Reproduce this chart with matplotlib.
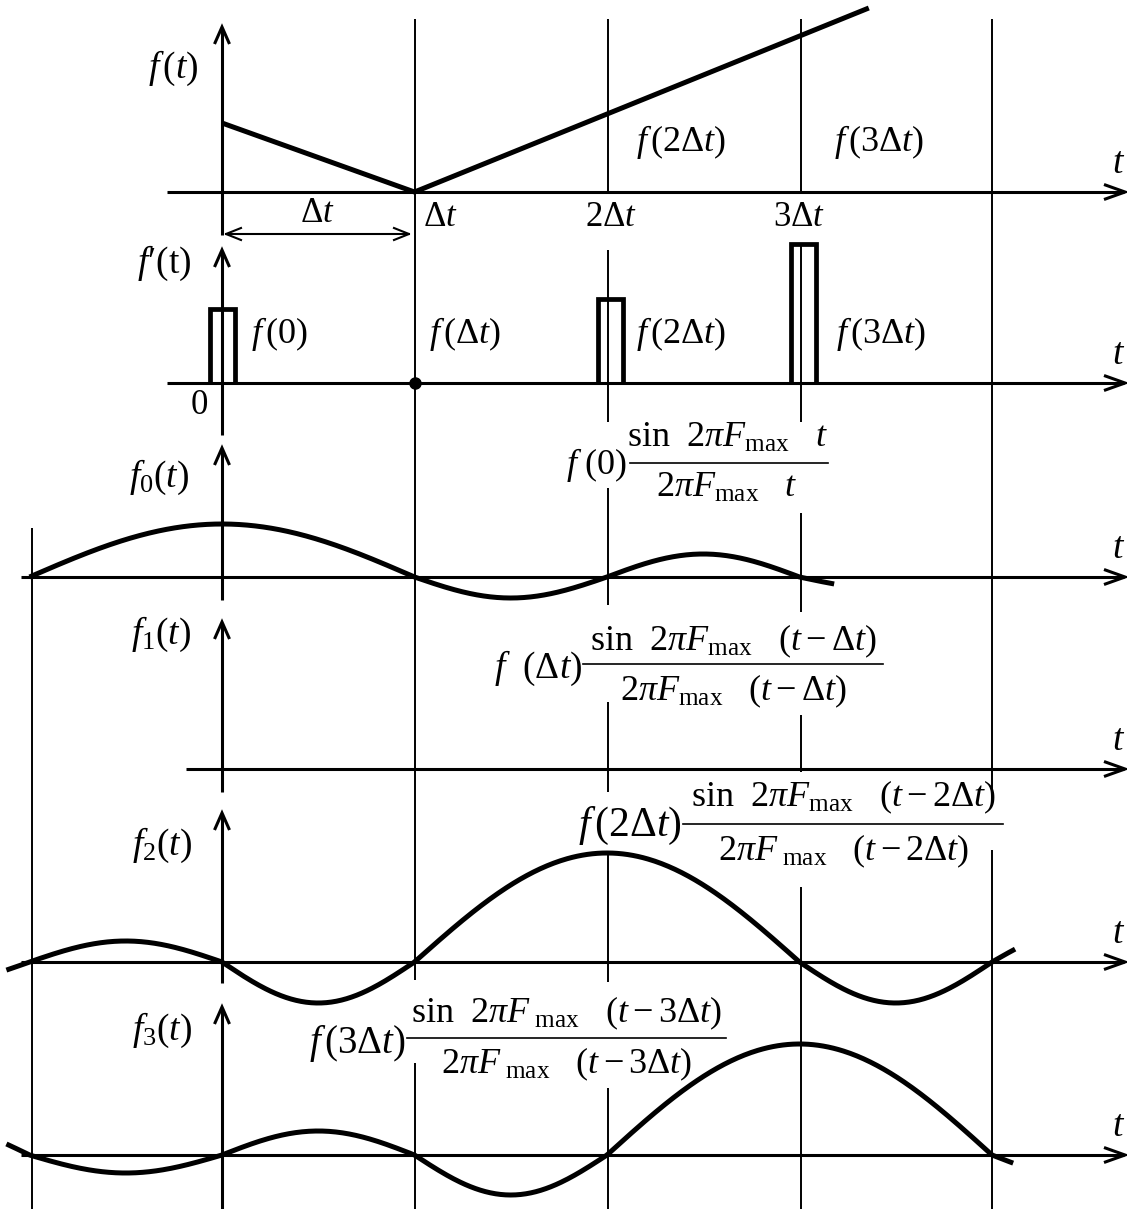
import numpy as np
import matplotlib
matplotlib.use('Agg')
import matplotlib.pyplot as plt

plt.rcParams['font.family'] = ['Liberation Serif', 'DejaVu Serif']
plt.rcParams['mathtext.fontset'] = 'custom'
plt.rcParams['mathtext.rm'] = 'Liberation Serif'
plt.rcParams['mathtext.it'] = 'Liberation Serif:italic'
plt.rcParams['mathtext.bf'] = 'Liberation Serif:bold'
plt.rcParams['mathtext.sf'] = 'Liberation Serif'

# ---------------- data ----------------
sample_t = [0, 1, 2, 3]                 # sample instants, in units of Δt
f_line_t = [0.0, 1.0, 3.36]             # break points of f(t)
f_line_v = [69, 0, 184]                 # f(t) at those points
pulse_v = [74, 0, 84, 139]              # heights of sampling pulses f'(t)
comp_k = [0, 1, 2, 3]                   # centre of each sinc component
comp_main = [53, 0, 109, 111]           # main-lobe amplitude of f0..f3
comp_right = [[-21, 23, -13], [], [-41, 35], [-24]]          # side lobes to the right
comp_left = [[], [], [-41, 21, -22], [-40, 24, -18, 30]]     # side lobes to the left
comp_span = [(-1.0, 3.18), (0.0, 0.0), (-1.12, 4.12), (-1.12, 4.11)]
tick_labels = [r'$\Delta t$', r'$2\Delta t$', r'$3\Delta t$']
panel_labels = [r'$f\,(t)$', r'$f$' + '\u2032(t)', r'$f_0(t)$', r'$f_1(t)$',
                r'$f_2(t)$', r'$f_3(t)$']
sample_labels = [r'$f\,(0)$', r'$f\,(\Delta t)$', r'$f\,(2\Delta t)$', r'$f\,(3\Delta t)$']

# ---------------- layout ----------------
W, H = 1127, 1209
T0, DT = 222.0, 192.5


def X(px):
    return (px - T0) / DT


base = [192, 383, 577, 769, 962, 1155]
axis_left = [167, 167, 21, 186, 21, 21]
yaxis_top = [27, 250, 448, 622, 813, 1007]
yaxis_bot = [235, 435, 600, 792, 983, 1209]
vsegs = {
    -1: [(528, 1209)],
    1: [(19, 980), (1063, 1209)],
    2: [(19, 192), (250, 422), (488, 605), (702, 792), (852, 982), (1088, 1209)],
    3: [(19, 192), (243, 422), (513, 612), (715, 772), (887, 1209)],
    4: [(19, 800), (850, 1209)],
}
vline_shift = {-1: 3, 1: 0, 2: 1, 3: 1, 4: 0}   # small hand-drawing offsets (px)

LW_AX = 2.2
LW_CURVE = 3.6
LW_GRID = 1.4
FS = 25
K = 'black'

fig = plt.figure(figsize=(W / 100, H / 100), dpi=100)
ax = fig.add_axes([0, 0, 1, 1])
ax.set_xlim(X(0), X(W))
ax.set_ylim(H, 0)
ax.axis('off')


def head_right(xtip_px, y, L=21, w=7.5, lw=LW_AX):
    xs = [X(xtip_px - L), X(xtip_px), X(xtip_px - L)]
    ys = [y - w, y, y + w]
    ax.plot(xs, ys, color=K, lw=lw, solid_joinstyle='miter', solid_capstyle='butt', zorder=4)


def head_left(xtip_px, y, L=15, w=6, lw=1.5):
    xs = [X(xtip_px + L), X(xtip_px), X(xtip_px + L)]
    ys = [y - w, y, y + w]
    ax.plot(xs, ys, color=K, lw=lw, solid_joinstyle='miter', zorder=4)


def head_up(t, ytip, L=17, w=7.5, lw=LW_AX):
    xs = [t - w / DT, t, t + w / DT]
    ys = [ytip + L, ytip, ytip + L]
    ax.plot(xs, ys, color=K, lw=lw, solid_joinstyle='miter', solid_capstyle='butt', zorder=4)


# vertical guide lines
for t, segs in vsegs.items():
    tx = t + vline_shift[t] / DT
    for y0, y1 in segs:
        ax.plot([tx, tx], [y0, y1], color=K, lw=LW_GRID, solid_capstyle='butt', zorder=2)

# axes of the six panels
for i, b in enumerate(base):
    ax.plot([X(axis_left[i]), X(1124)], [b, b], color=K, lw=LW_AX, solid_capstyle='butt', zorder=3)
    head_right(1125, b)
    ax.plot([0, 0], [yaxis_bot[i], yaxis_top[i] + 1], color=K, lw=LW_AX, solid_capstyle='butt', zorder=3)
    head_up(0, yaxis_top[i])
    ax.text(X(1119), b - 28, r'$t$', fontsize=27, ha='center', va='center', zorder=6)

# panel labels
label_pos = [(173, 68), (164, 263), (159, 477), (161, 634), (162, 845), (162, 1030)]
for lab, (px, py) in zip(panel_labels, label_pos):
    ax.text(X(px), py, lab, fontsize=27, ha='center', va='center', zorder=6)

# ---- panel 1: f(t) ----
ax.plot(f_line_t, [base[0] - v for v in f_line_v], color=K, lw=LW_CURVE,
        solid_capstyle='butt', solid_joinstyle='miter', zorder=5)
tick_x = [X(440), 2 + 4 / DT, 3]
for lab, tx in zip(tick_labels, tick_x):
    ax.text(tx, 218, lab, fontsize=FS, ha='center', va='center', zorder=6)
for lab, px in zip(sample_labels[2:], [681, 879]):
    ax.text(X(px), 142, lab, fontsize=26, ha='center', va='center', zorder=6)
# Δt dimension arrow
ax.plot([X(226), X(409)], [234, 234], color=K, lw=1.5, zorder=4)
head_left(226, 234)
xs = [X(409 - 15), X(409), X(409 - 15)]
ax.plot(xs, [228, 234, 240], color=K, lw=1.5, solid_joinstyle='miter', zorder=4)
ax.text(X(317), 214, r'$\Delta t$', fontsize=FS, ha='center', va='center', zorder=6)

# ---- panel 2: sampling pulses ----
pw = 25 / DT
pulse_shift = [1, 0, 3, 4]   # px
for k, h, s in zip(sample_t, pulse_v, pulse_shift):
    b = base[1]
    kc = k + s / DT
    if h > 0:
        ax.plot([kc - pw / 2, kc - pw / 2, kc + pw / 2, kc + pw / 2], [b, b - h, b - h, b],
                color=K, lw=LW_CURVE * 0.95, solid_joinstyle='miter', solid_capstyle='butt', zorder=5)
    else:
        ax.plot([k], [b], 'o', color=K, ms=8, zorder=6)
ax.text(X(199), 405, '0', fontsize=FS, ha='center', va='center', zorder=6)
for lab, px in zip(sample_labels, [279, 465, 681, 881]):
    ax.text(X(px), 334, lab, fontsize=26, ha='center', va='center', zorder=6)


# ---- panels 3-6: sinc components ----
def component(t, k, A, right, left):
    u = t - k
    y = np.zeros_like(u)
    m = np.abs(u) <= 1
    y[m] = A * np.cos(np.pi * u[m] / 2)
    for i, a in enumerate(right):
        n = i + 1
        m = (u > n) & (u <= n + 1)
        y[m] = a * np.sin(np.pi * (u[m] - n))
    for i, a in enumerate(left):
        n = i + 1
        m = (u < -n) & (u >= -n - 1)
        y[m] = a * np.sin(np.pi * (-u[m] - n))
    return y


for j in range(4):
    b = base[2 + j]
    t0, t1 = comp_span[j]
    if comp_main[j] == 0 or t1 <= t0:
        continue
    tt = np.linspace(t0, t1, 600)
    vv = component(tt, comp_k[j], comp_main[j], comp_right[j], comp_left[j])
    ax.plot(tt, b - vv, color=K, lw=LW_CURVE, solid_capstyle='butt', zorder=5)

# ---- formulas ----
formulas = [
    # left part, size, right edge px, y ; numerator, centre ; denominator ; bar
    (r'$f\,\,(0)$', 26, 627, 465, r'$\mathrm{sin}\ \ 2\pi F_{\mathrm{max}}\ \ \ t$', (728, 438),
     r'$2\pi F_{\mathrm{max}}\ \ \ t$', (727, 488), (630, 828, 463)),
    (r'$f\ \ (\Delta t)$', 27, 582, 668, r'$\mathrm{sin}\ \ 2\pi F_{\mathrm{max}}\ \ \ (t-\Delta t)$', (733, 641),
     r'$2\pi F_{\mathrm{max}}\ \ \ (t-\Delta t)$', (734, 691), (583, 883, 664)),
    (r'$f\,(2\Delta t)$', 30, 682, 826, r'$\mathrm{sin}\ \ 2\pi F_{\mathrm{max}}\ \ \ (t-2\Delta t)$', (843, 797),
     r'$2\pi F_{\ \mathrm{max}}\ \ \ (t-2\Delta t)$', (844, 851), (683, 1003, 824)),
    (r'$f\,(3\Delta t)$', 28, 406, 1043, r'$\mathrm{sin}\ \ 2\pi F_{\ \mathrm{max}}\ \ \ (t-3\Delta t)$', (566, 1013),
     r'$2\pi F_{\ \mathrm{max}}\ \ \ (t-3\Delta t)$', (567, 1064), (407, 726, 1038)),
]
for left, lfs, lx, ly, num, (nx, ny), den, (dx, dy), (bx0, bx1, by) in formulas:
    ax.text(X(lx), ly, left, fontsize=lfs, ha='right', va='center', zorder=6)
    ax.text(X(nx), ny, num, fontsize=26, ha='center', va='center', zorder=6)
    ax.text(X(dx), dy, den, fontsize=26, ha='center', va='center', zorder=6)
    ax.plot([X(bx0), X(bx1)], [by, by], color=K, lw=1.2, zorder=6)

fig.savefig('out.png', dpi=100)
